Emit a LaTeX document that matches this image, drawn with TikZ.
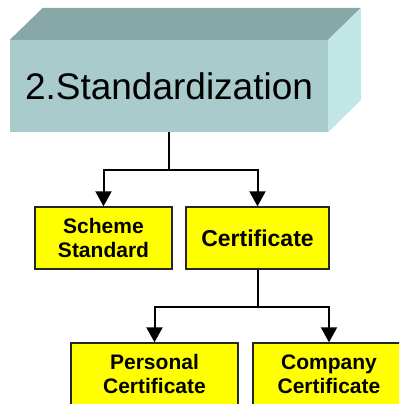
\documentclass[tikz,border=0pt]{standalone}
\usepackage{fontspec}
\setmainfont{Liberation Sans}
\usetikzlibrary{arrows.meta}
\definecolor{frontc}{HTML}{A9CBCB}
\definecolor{topc}{HTML}{88A8A8}
\definecolor{sidec}{HTML}{C0E6E6}
\definecolor{boxy}{HTML}{FFFF00}
\tikzset{
  front/.style={fill=frontc, minimum width=318pt, minimum height=92pt, inner sep=0pt,
    font=\fontsize{37}{40}\selectfont, text=black},
  box/.style={draw=black!85, line width=1.4pt, fill=boxy, minimum height=62pt, inner sep=0pt,
    align=center, font=\fontsize{21}{24}\selectfont\bfseries},
  conn/.style={line width=2pt, draw=black},
  arr/.style={conn, -{Triangle[width=16pt,length=15pt]}}
}
\begin{document}
\begin{tikzpicture}[x=1pt,y=-1pt]
\clip (0,0) rectangle (399,404);
\node[front] (std) at (169,86) {2.Standardization};
\fill[topc] (std.north west) -- ++(33,-32) -- ++(318,0) -- (std.north east) -- cycle;
\fill[sidec] (std.north east) -- ++(33,-32) -- ++(0,92) -- (std.south east) -- cycle;
\node[box, minimum width=137pt] (scheme) at (103.5,238) {Scheme\\Standard};
\node[box, minimum width=143pt, font=\fontsize{23}{26}\selectfont\bfseries] (cert) at (257.5,238) {Certificate};
\node[box, minimum width=167pt] (pers) at (154.5,374) {Personal\\Certificate};
\node[box, minimum width=152pt] (comp) at (329,374) {Company\\Certificate};
\draw[conn] (std.south) -- ++(0,38) coordinate (j1);
\draw[arr] (j1) -| (scheme.north);
\draw[arr] (j1) -| (cert.north);
\draw[conn] (cert.south) -- ++(0,37) coordinate (j2);
\draw[arr] (j2) -| (pers.north);
\draw[arr] (j2) -| (comp.north);
\end{tikzpicture}
\end{document}
